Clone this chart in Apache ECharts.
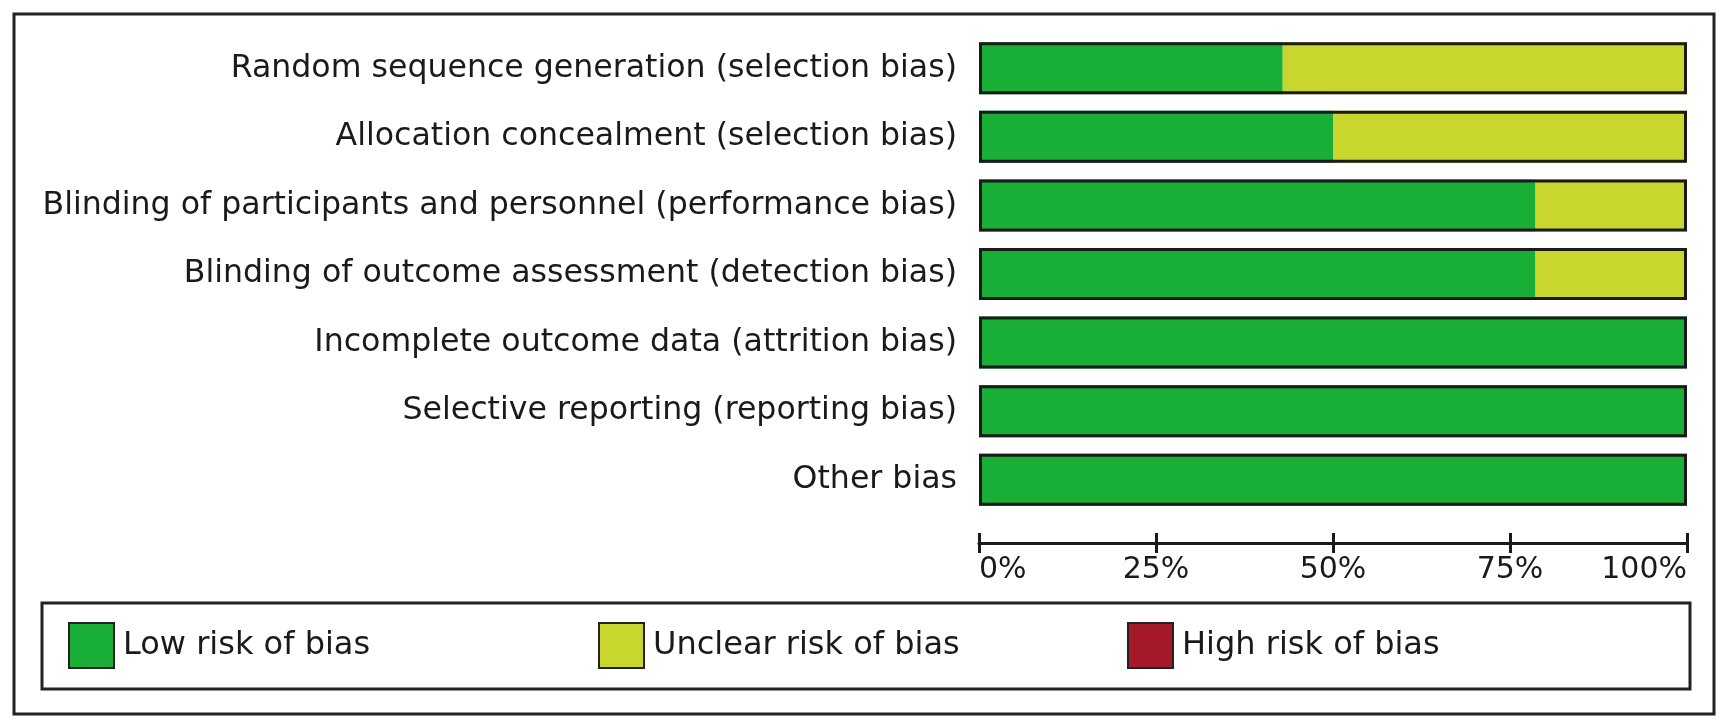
<!DOCTYPE html>
<html>
<head>
<meta charset="utf-8">
<script src="https://cdn.jsdelivr.net/npm/echarts@6/dist/echarts.min.js"></script>
<style>
  html, body { margin: 0; padding: 0; background: #fff; }
  #chart { width: 1727px; height: 726px; }
</style>
</head>
<body>
<div id="chart"></div>
<script>
// risk of bias domains (top to bottom)
var domains = [
  'Random sequence generation (selection bias)',
  'Allocation concealment (selection bias)',
  'Blinding of participants and personnel (performance bias)',
  'Blinding of outcome assessment (detection bias)',
  'Incomplete outcome data (attrition bias)',
  'Selective reporting (reporting bias)',
  'Other bias'
]
// percent of studies
var lowRisk = [42.9, 50, 78.6, 78.6, 100, 100, 100]
var unclearRisk = [57.1, 50, 21.4, 21.4, 0, 0, 0]
var highRisk = [0, 0, 0, 0, 0, 0, 0]
var tickValues = [0, 25, 50, 75, 100]

var totals = lowRisk.map(function (v, i) { return v + unclearRisk[i] + highRisk[i] })

var textColor = '#1a1a1a'
var fontName = 'DejaVu Sans'

function legendAt (name, left) {
  return {
    data: [name],
    left: left,
    top: 617,
    itemWidth: 45,
    itemHeight: 45,
    icon: 'rect',
    selectedMode: false,
    itemStyle: { borderColor: '#222', borderWidth: 2 },
    textStyle: { fontSize: 32, color: textColor, fontFamily: fontName, padding: [0, 0, 0, 4] }
  }
}

var myChart = echarts.init(document.getElementById('chart'))
myChart.setOption({
  backgroundColor: '#fff',
  animation: false,
  color: ['#19ae36', '#c8d62e', '#a5192a'],
  textStyle: { fontFamily: fontName },
  grid: {
    left: 979,
    right: 40,
    top: 34,
    bottom: 212
  },
  legend: [
    legendAt('Low risk of bias', 63),
    legendAt('Unclear risk of bias', 593),
    legendAt('High risk of bias', 1122)
  ],
  xAxis: [{
    type: 'value',
    min: tickValues[0],
    max: tickValues[tickValues.length - 1],
    interval: tickValues[1] - tickValues[0],
    position: 'bottom',
    offset: 29,
    splitLine: { show: false },
    axisLine: { show: true, lineStyle: { color: textColor, width: 3 } },
    axisTick: { show: true, length: 10, lineStyle: { color: textColor, width: 3 } },
    axisLabel: {
      formatter: '{value}%',
      fontSize: 30,
      color: textColor,
      fontFamily: fontName,
      margin: 12,
      alignMinLabel: 'left',
      alignMaxLabel: 'right'
    }
  }, {
    // upper half of the ticks
    type: 'value',
    min: tickValues[0],
    max: tickValues[tickValues.length - 1],
    interval: tickValues[1] - tickValues[0],
    position: 'bottom',
    offset: 29,
    splitLine: { show: false },
    axisLine: { show: false },
    axisTick: { show: true, inside: true, length: 10, lineStyle: { color: textColor, width: 3 } },
    axisLabel: { show: false }
  }],
  yAxis: {
    type: 'category',
    inverse: true,
    data: domains,
    axisLine: { show: false },
    axisTick: { show: false },
    axisLabel: {
      fontSize: 31.6,
      color: textColor,
      fontFamily: fontName,
      margin: 22,
      padding: [8, 0, 0, 0]
    }
  },
  series: [{
    name: 'Low risk of bias',
    type: 'bar',
    stack: 'risk',
    barWidth: 52,
    barGap: '-100%',
    data: lowRisk
  }, {
    name: 'Unclear risk of bias',
    type: 'bar',
    stack: 'risk',
    barWidth: 52,
    barGap: '-100%',
    data: unclearRisk
  }, {
    name: 'High risk of bias',
    type: 'bar',
    stack: 'risk',
    barWidth: 52,
    barGap: '-100%',
    data: highRisk
  }, {
    // outline round each whole bar
    name: 'outline',
    type: 'bar',
    barWidth: 52,
    barGap: '-100%',
    silent: true,
    itemStyle: { color: 'rgba(0,0,0,0)', borderColor: '#1a1a1a', borderWidth: 3 },
    data: totals,
    z: 3
  }],
  graphic: [{
    type: 'rect',
    shape: { x: 14, y: 14, width: 1700, height: 700 },
    style: { fill: null, stroke: '#222', lineWidth: 3 }
  }, {
    type: 'rect',
    shape: { x: 42, y: 603, width: 1648, height: 86 },
    style: { fill: null, stroke: '#222', lineWidth: 3 }
  }]
})
</script>
</body>
</html>
